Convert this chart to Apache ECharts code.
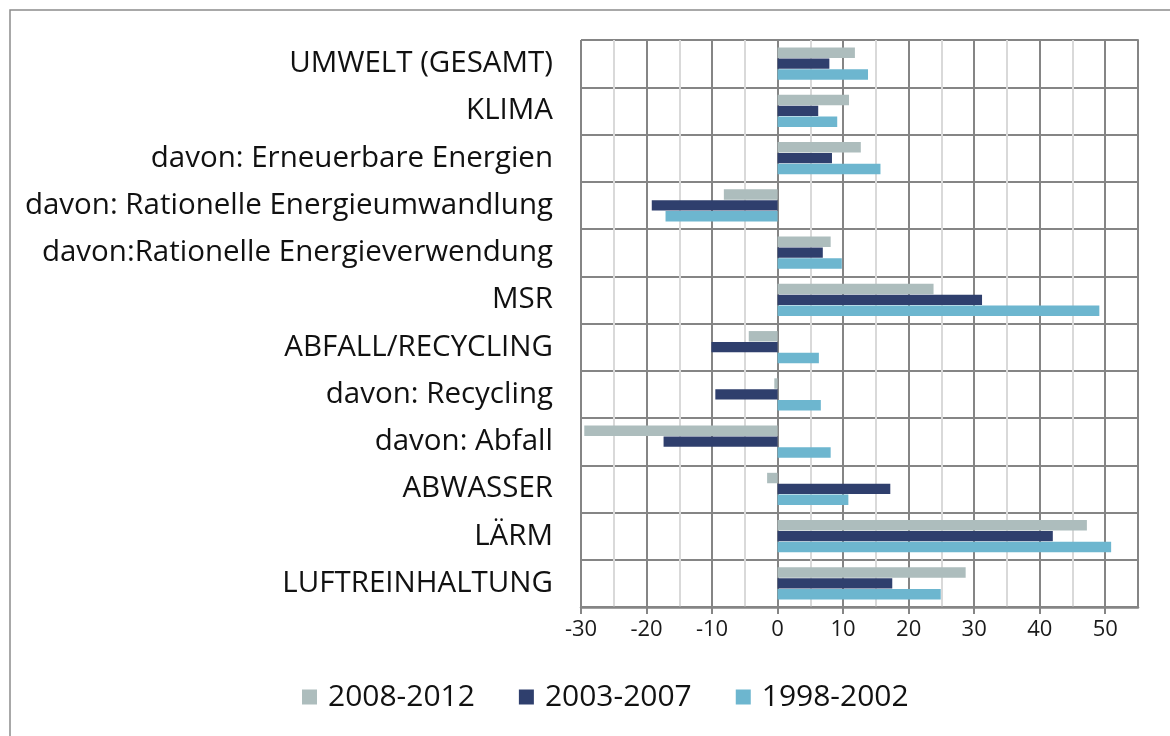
<!DOCTYPE html>
<html>
<head>
<meta charset="utf-8">
<script src="https://cdn.jsdelivr.net/npm/echarts@6/dist/echarts.min.js"></script>
<style>
  html, body { margin: 0; padding: 0; background: #fff; }
  #chart { width: 1170px; height: 736px; }
</style>
</head>
<body>
<div id="chart"></div>
<script>
// Categories, top to bottom
const categories = [
  'UMWELT (GESAMT)',
  'KLIMA',
  'davon: Erneuerbare Energien',
  'davon: Rationelle Energieumwandlung',
  'davon:Rationelle Energieverwendung',
  'MSR',
  'ABFALL/RECYCLING',
  'davon: Recycling',
  'davon: Abfall',
  'ABWASSER',
  'LÄRM',
  'LUFTREINHALTUNG'
];

// Series names
const seriesNames = ['2008-2012', '2003-2007', '1998-2002'];

// Values per period
const values2008to2012 = [11.8, 10.9, 12.7, -8.2, 8.1, 23.8, -4.4, -0.5, -29.5, -1.6, 47.2, 28.7];
const values2003to2007 = [7.9, 6.2, 8.3, -19.2, 6.9, 31.2, -10.1, -9.5, -17.4, 17.2, 42.0, 17.5];
const values1998to2002 = [13.8, 9.1, 15.7, -17.1, 9.8, 49.1, 6.3, 6.6, 8.1, 10.8, 50.9, 24.9];

// Value axis: labelled every 10 from -30, light gridlines halfway between
const axisMin = -30;
const axisMax = 55;
const majorStep = 10;
const minorOffset = 5;
const majorValues = [-30, -20, -10, 0, 10, 20, 30, 40, 50];

const colors = ['#adbdbd', '#2f3f6d', '#6db6cf'];
const gridColor = '#858585';
const minorGridColor = '#d9d9d9';
const fontFamily = '"Open Sans", "Noto Sans", sans-serif';

const chart = echarts.init(document.getElementById('chart'));

const seriesData = [values2008to2012, values2003to2007, values1998to2002];

// main plot rectangle
const plotLeft = 581, plotTop = 40, plotRight = 32, plotBottom = 129;
const plotWidth = 1170 - plotLeft - plotRight;
// the minor-gridline grid starts at axisMin + minorOffset, sharing the same scale
const minorLeft = plotLeft + plotWidth * minorOffset / (axisMax - axisMin);

chart.setOption({
  animation: false,
  backgroundColor: '#fff',
  color: colors,
  textStyle: { fontFamily: fontFamily },
  grid: [
    { left: plotLeft, top: plotTop, right: plotRight, bottom: plotBottom, containLabel: false },
    { left: minorLeft, top: plotTop, right: plotRight, bottom: plotBottom, containLabel: false }
  ],
  graphic: [{
    type: 'rect',
    shape: { x: 10, y: 10, width: 1200, height: 800 },
    style: { fill: 'none', stroke: '#8c8c8c', lineWidth: 1.5 },
    silent: true
  }],
  legend: {
    data: seriesNames,
    bottom: 19,
    left: 297,
    icon: 'rect',
    itemWidth: 15,
    itemHeight: 15,
    itemGap: 44,
    textStyle: { fontSize: 30, color: '#111', fontFamily: fontFamily, padding: [0, 0, 0, 6] }
  },
  xAxis: [{
    gridIndex: 0,
    type: 'value',
    min: axisMin,
    max: axisMax,
    interval: majorStep,
    axisLine: { show: true, onZero: false, lineStyle: { color: gridColor, width: 2.5 } },
    axisTick: { show: true, length: 7, lineStyle: { color: gridColor, width: 2 } },
    axisLabel: {
      showMaxLabel: false,
      fontSize: 22, color: '#1a1a1a', margin: 12, fontFamily: fontFamily,
      formatter: (v) => (v % majorStep === 0 ? String(v) : '')
    },
    splitLine: { show: true, showMaxLine: false, lineStyle: { color: gridColor, width: 2 } }
  }, {
    gridIndex: 1,
    type: 'value',
    min: axisMin + minorOffset,
    max: axisMax,
    interval: majorStep,
    axisLine: { show: false },
    axisTick: { show: false },
    axisLabel: { show: false },
    splitLine: { show: true, lineStyle: { color: minorGridColor, width: 2 } }
  }],
  yAxis: [{
    gridIndex: 0,
    type: 'category',
    data: categories,
    inverse: true,
    position: 'left',
    axisLine: { show: false },
    axisTick: { show: false },
    axisLabel: { fontSize: 29.5, color: '#111', margin: 28, fontFamily: fontFamily },
    splitLine: { show: true, lineStyle: { color: gridColor, width: 2 } }
  }, {
    // vertical axis line at zero with ticks pointing left
    gridIndex: 0,
    type: 'category',
    data: categories,
    inverse: true,
    position: 'right',
    axisLine: { show: true, onZero: true, lineStyle: { color: gridColor, width: 2 } },
    axisTick: { show: true, inside: true, length: 8, lineStyle: { color: gridColor, width: 2 } },
    axisLabel: { show: false },
    splitLine: { show: false }
  }, {
    gridIndex: 1,
    type: 'category',
    data: categories,
    show: false
  }],
  series: seriesNames.map((name, i) => ({
    name: name,
    type: 'bar',
    xAxisIndex: 0,
    yAxisIndex: 0,
    data: seriesData[i],
    barGap: '4%',
    barCategoryGap: '32%',
    itemStyle: { color: colors[i] },
    // major vertical gridlines, kept beneath the bars
    markLine: i === 0 ? {
      silent: true,
      z: 1,
      symbol: 'none',
      label: { show: false },
      emphasis: { disabled: true },
      lineStyle: { color: gridColor, width: 2, type: 'solid' },
      data: majorValues.map((v) => ({ xAxis: v }))
    } : undefined
  }))
});
</script>
</body>
</html>
